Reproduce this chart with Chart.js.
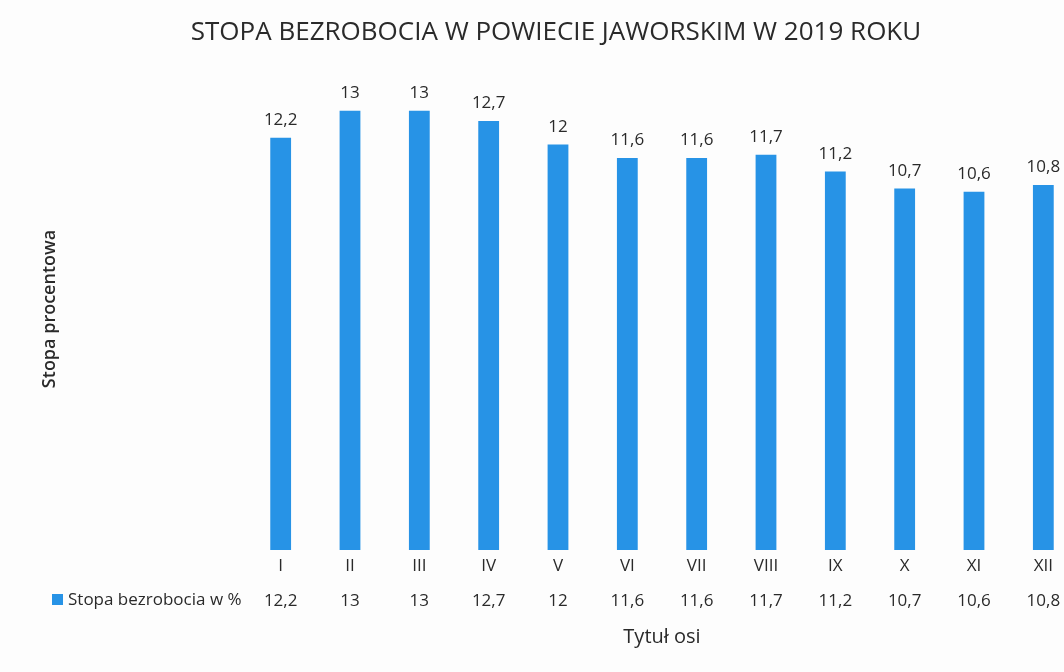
<!DOCTYPE html>
<html>
<head>
<meta charset="utf-8">
<script src="https://cdn.jsdelivr.net/npm/chart.js@4"></script>
<style>
  html, body { margin: 0; padding: 0; background: #fdfdfd; overflow: hidden; }
  #wrap { position: relative; width: 1078px; height: 672px; }
</style>
</head>
<body>
<div id="wrap"><canvas id="c"></canvas></div>
<script>
const chartTitle = "STOPA BEZROBOCIA W POWIECIE JAWORSKIM W 2019 ROKU";
const months = ["I","II","III","IV","V","VI","VII","VIII","IX","X","XI","XII"];
const rates = [12.2, 13, 13, 12.7, 12, 11.6, 11.6, 11.7, 11.2, 10.7, 10.6, 10.8];
const seriesName = "Stopa bezrobocia w %";
const yTitle = "Stopa procentowa";
const xTitle = "Tytuł osi";

const FONT = "'Open Sans', 'Noto Sans', sans-serif";
const TXT = "#2a2a2a";
const BAR = "#2793e6";
const fmt = v => String(v).replace('.', ',');

const textPlugin = {
  id: 'texts',
  afterDraw(chart) {
    const ctx = chart.ctx;
    const x = chart.scales.x;
    const area = chart.chartArea;
    ctx.save();
    // title
    ctx.fillStyle = TXT;
    ctx.textAlign = 'center';
    ctx.textBaseline = 'middle';
    ctx.font = "26px " + FONT;
    ctx.fillText(chartTitle, 556, 33);
    // bar value labels
    ctx.font = "17px " + FONT;
    ctx.textBaseline = 'bottom';
    const meta = chart.getDatasetMeta(0);
    meta.data.forEach((bar, i) => {
      ctx.fillText(fmt(rates[i]), bar.x, bar.y - 9);
    });
    // data table row
    ctx.textBaseline = 'middle';
    rates.forEach((v, i) => {
      ctx.fillText(fmt(v), x.getPixelForValue(i), 601);
    });
    // legend key
    ctx.fillStyle = BAR;
    ctx.fillRect(52, 594, 11, 11);
    ctx.fillStyle = TXT;
    ctx.textAlign = 'left';
    ctx.font = "17px " + FONT;
    ctx.fillText(seriesName, 68, 600);
    // x axis title
    ctx.textAlign = 'center';
    ctx.font = "20px " + FONT;
    ctx.fillText(xTitle, (area.left + area.right) / 2, 637);
    // y axis title
    ctx.translate(50, 309);
    ctx.rotate(-Math.PI / 2);
    ctx.font = "600 18px " + FONT;
    ctx.fillText(yTitle, 0, 0);
    ctx.restore();
  }
};

new Chart(document.getElementById('c'), {
  type: 'bar',
  data: {
    labels: months,
    datasets: [{
      label: seriesName,
      data: rates,
      backgroundColor: BAR,
      borderWidth: 0,
      barPercentage: 0.3,
      categoryPercentage: 1.0
    }]
  },
  options: {
    responsive: true,
    maintainAspectRatio: false,
    animation: false,
    layout: { padding: { top: 77, left: 0, right: 0, bottom: 0 } },
    plugins: {
      legend: { display: false },
      title: { display: false },
      tooltip: { enabled: false }
    },
    scales: {
      x: {
        grid: { display: false, drawTicks: false },
        border: { display: false },
        ticks: {
          color: TXT,
          font: { family: FONT, size: 17 },
          padding: 6,
          maxRotation: 0,
          autoSkip: false
        },
        afterFit(scale) { scale.height = 122; }
      },
      y: {
        min: 0,
        max: 14,
        grid: { display: false, drawTicks: false },
        border: { display: false },
        ticks: { display: false },
        afterFit(scale) { scale.width = 246; }
      }
    }
  },
  plugins: [textPlugin]
});
</script>
</body>
</html>
